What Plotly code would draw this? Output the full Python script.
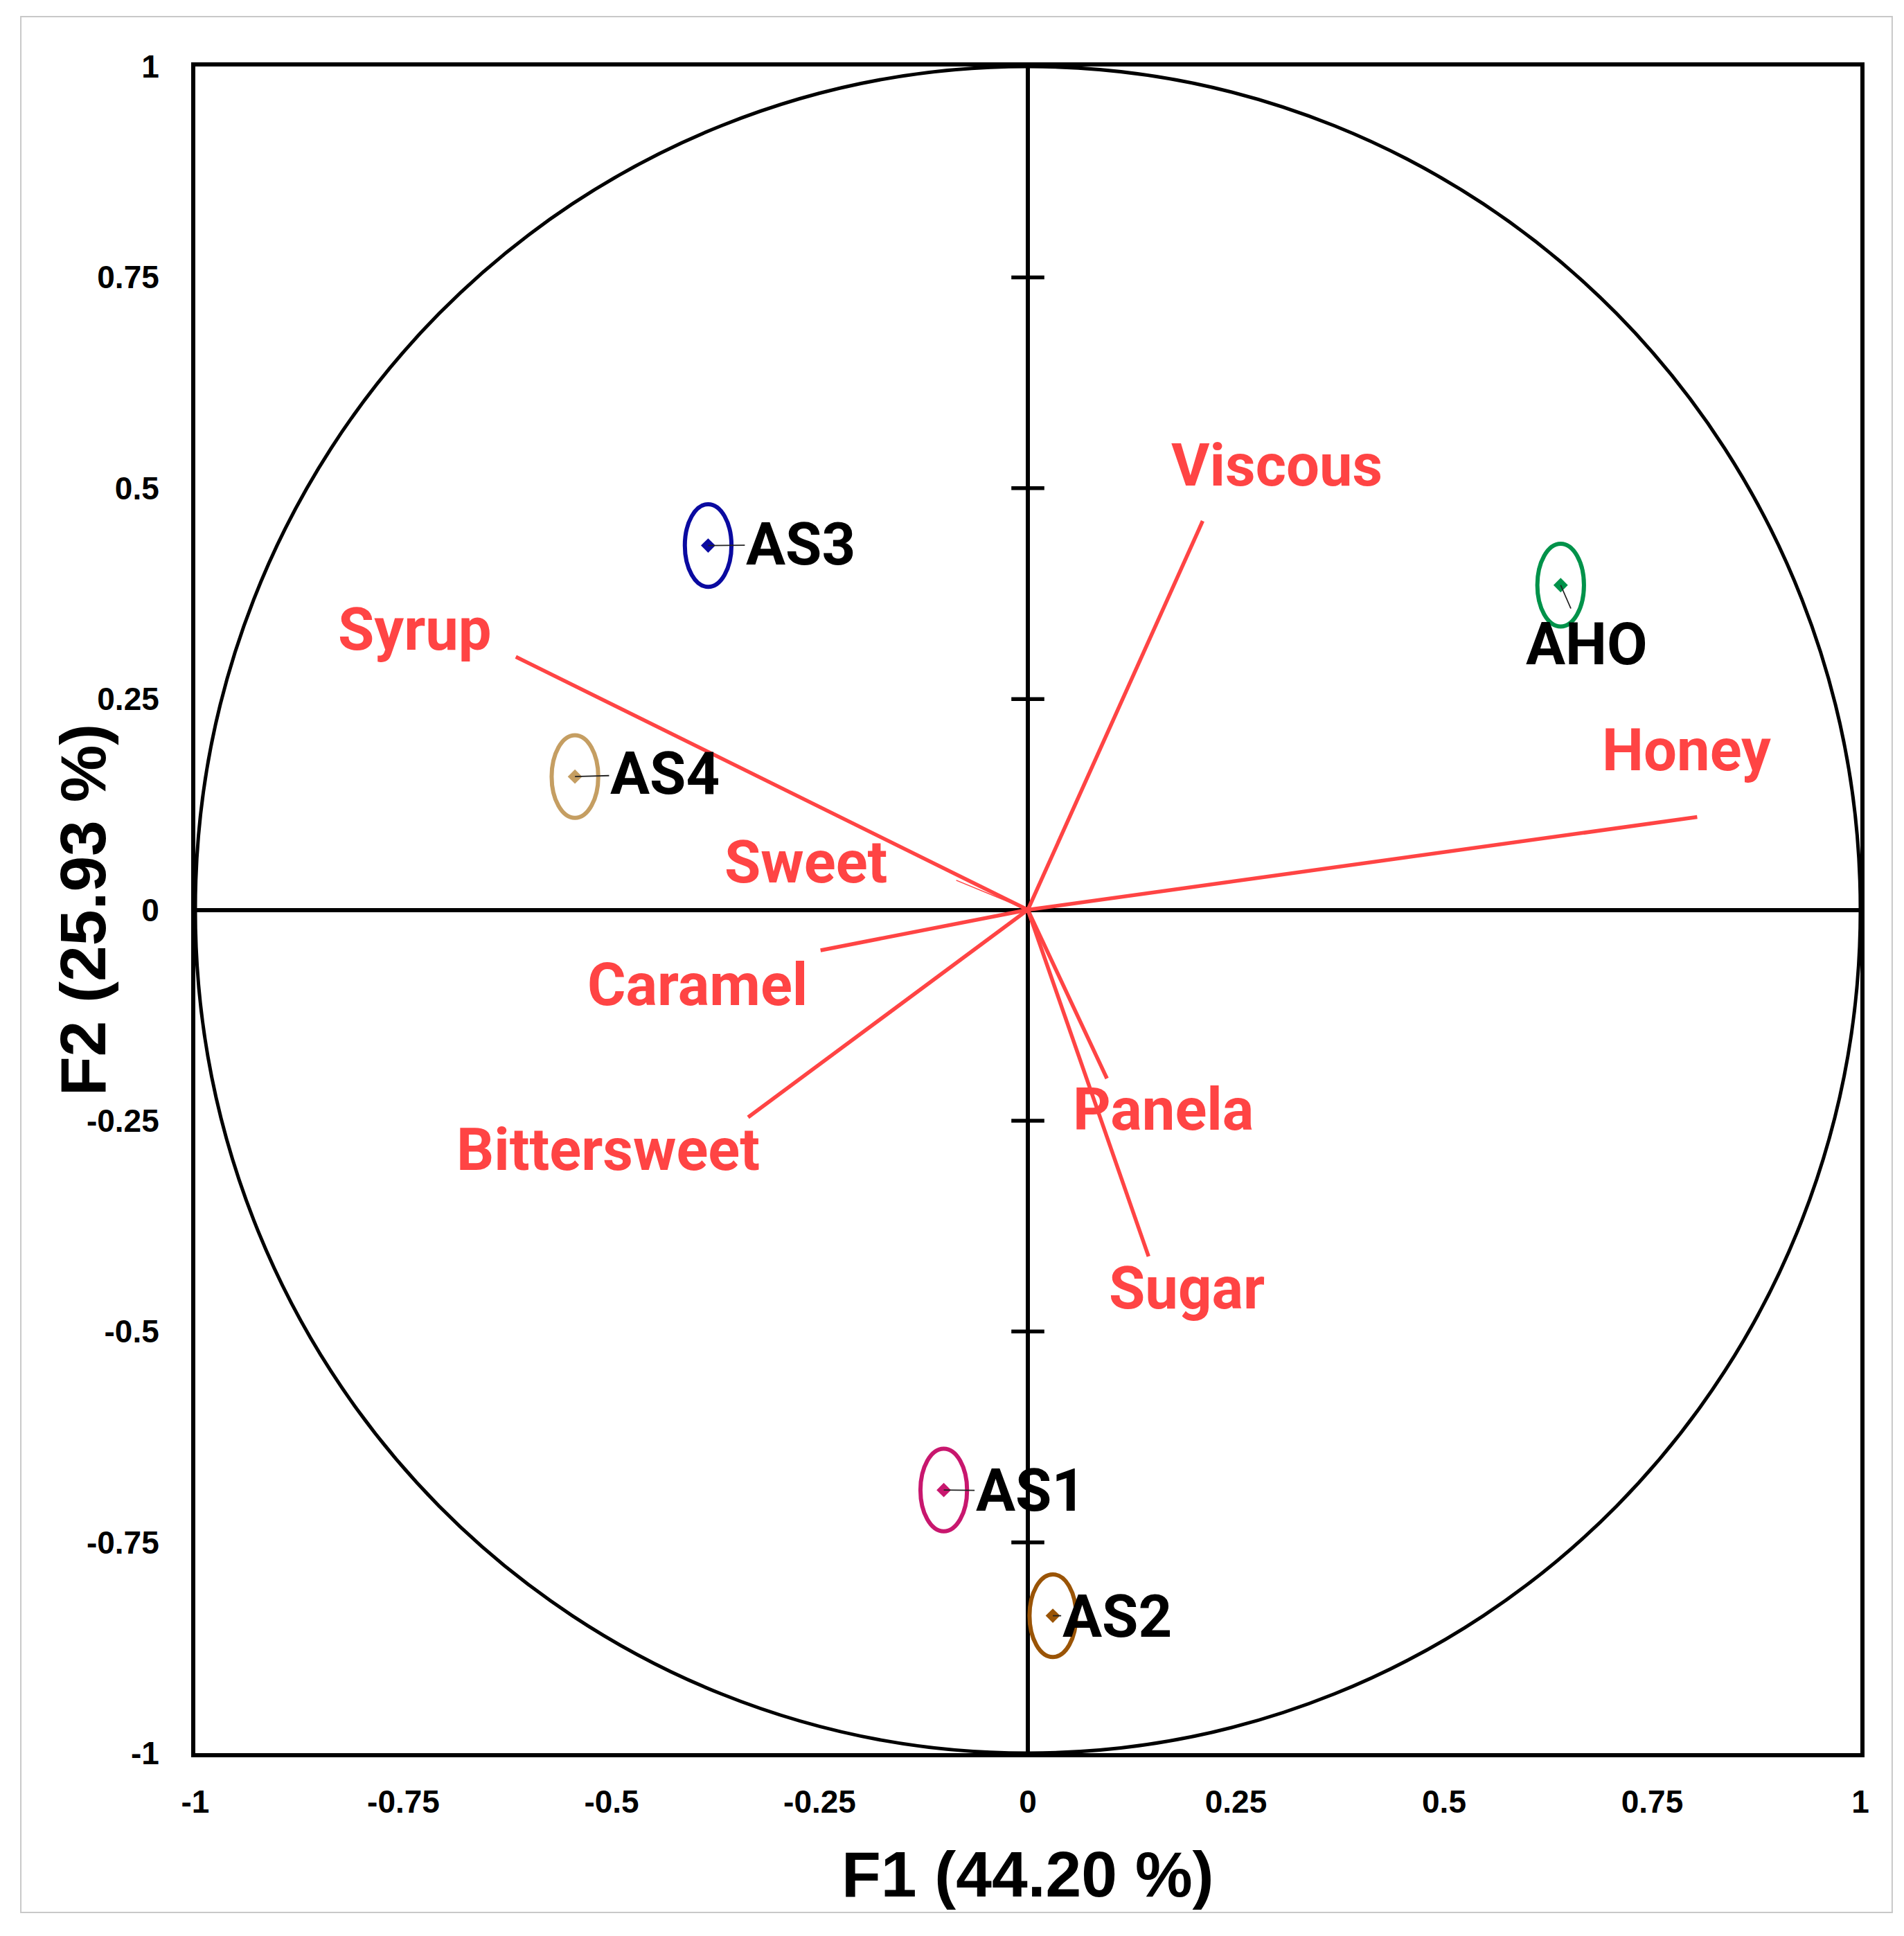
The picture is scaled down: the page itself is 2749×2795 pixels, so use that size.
import plotly.graph_objects as go

# correlation loadings of the sensory attributes on F1 / F2
var_names = ["Viscous", "Honey", "Syrup", "Sweet", "Caramel", "Bittersweet", "Panela", "Sugar"]
var_f1 = [0.210, 0.804, -0.615, -0.086, -0.249, -0.336, 0.095, 0.145]
var_f2 = [0.461, 0.110, 0.300, 0.035, -0.048, -0.246, -0.200, -0.411]
var_label_f1 = [0.299, 0.791, -0.736, -0.267, -0.397, -0.504, 0.163, 0.191]
var_label_f2 = [0.527, 0.189, 0.332, 0.056, -0.089, -0.285, -0.237, -0.449]

# samples (scores) with their confidence ellipses
obs_names = ["AS3", "AS4", "AHO", "AS1", "AS2"]
obs_f1 = [-0.384, -0.544, 0.640, -0.101, 0.030]
obs_f2 = [0.432, 0.158, 0.385, -0.688, -0.837]
obs_rx = [0.028, 0.028, 0.028, 0.028, 0.028]
obs_ry = [0.049, 0.049, 0.049, 0.049, 0.049]
obs_label_f1 = [-0.273, -0.436, 0.671, 0.003, 0.107]
obs_label_f2 = [0.433, 0.161, 0.315, -0.689, -0.838]
obs_colors = ["#0A0AA0", "#C59E62", "#00924A", "#C8176E", "#9A5406"]

tick_vals = [-1, -0.75, -0.5, -0.25, 0, 0.25, 0.5, 0.75, 1]
tick_text = ["-1", "-0.75", "-0.5", "-0.25", "0", "0.25", "0.5", "0.75", "1"]
inner_ticks = [-0.75, -0.5, -0.25, 0.25, 0.5, 0.75]

RED = "#FF4444"
label_font = dict(family="Roboto, Lato, sans-serif", size=85, weight="bold")
axis_font = dict(family="Liberation Sans, Arial, sans-serif", size=46, weight="bold", color="black")
title_font = dict(family="Liberation Sans, Arial, sans-serif", size=93, weight="bold", color="black")

fig = go.Figure()

# small cross ticks on the vertical zero axis
fig.add_trace(go.Scatter(
    x=[0] * len(inner_ticks), y=inner_ticks, mode="markers",
    marker=dict(symbol="line-ew", size=34, line=dict(width=5.5, color="black")),
    showlegend=False, hoverinfo="skip"))

# attribute vectors
for i, name in enumerate(var_names):
    width = 1.5 if name == "Sweet" else 5.5
    fig.add_trace(go.Scatter(
        x=[0, var_f1[i]], y=[0, var_f2[i]], mode="lines",
        line=dict(color=RED, width=width),
        showlegend=False, hoverinfo="skip"))
    fig.add_annotation(x=var_label_f1[i], y=var_label_f2[i], text=name,
                       showarrow=False, font=dict(color=RED, **label_font))

# sample points
for i, name in enumerate(obs_names):
    fig.add_shape(type="circle", xref="x", yref="y",
                  x0=obs_f1[i] - obs_rx[i], x1=obs_f1[i] + obs_rx[i],
                  y0=obs_f2[i] - obs_ry[i], y1=obs_f2[i] + obs_ry[i],
                  line=dict(color=obs_colors[i], width=6))
    fig.add_trace(go.Scatter(
        x=[obs_f1[i]], y=[obs_f2[i]], mode="markers",
        marker=dict(symbol="diamond", size=16, color=obs_colors[i]),
        showlegend=False, hoverinfo="skip"))
    fig.add_annotation(x=obs_f1[i], y=obs_f2[i], ax=obs_label_f1[i], ay=obs_label_f2[i],
                       axref="x", ayref="y", text=name, showarrow=True,
                       arrowhead=0, arrowwidth=1.8, arrowcolor="#222222", standoff=0,
                       font=dict(color="black", **label_font))

# correlation circle
fig.add_shape(type="circle", xref="x", yref="y", x0=-1, y0=-1, x1=1, y1=1,
              line=dict(color="black", width=5), layer="below")

# thin grey frame round the whole chart
fig.add_shape(type="rect", xref="paper", yref="paper",
              x0=-0.1048, x1=1.0191, y0=-0.0945, y1=1.0296,
              line=dict(color="#C8C8C8", width=2))

fig.add_annotation(xref="paper", yref="paper", x=0.5, y=-0.072, text="F1 (44.20 %)",
                   showarrow=False, yanchor="middle", font=title_font)
fig.add_annotation(xref="paper", yref="paper", x=-0.0675, y=0.5, text="F2 (25.93 %)",
                   showarrow=False, textangle=-90, xanchor="center", font=title_font)

axis_common = dict(
    range=[-1, 1], tickvals=tick_vals, ticktext=tick_text, tickfont=axis_font,
    showline=True, mirror=True, linecolor="black", linewidth=6,
    showgrid=False, zeroline=True, zerolinecolor="black", zerolinewidth=5.5,
    ticks="", fixedrange=True)

fig.update_xaxes(**axis_common, ticklabelstandoff=25)
fig.update_yaxes(**axis_common, ticklabelstandoff=37)

# margins allow for the default body margin of the html page
fig.update_layout(
    width=2749, height=2795,
    margin=dict(l=274, r=71, t=88, b=272),
    plot_bgcolor="white", paper_bgcolor="white",
    showlegend=False, hovermode=False)

fig.write_html("out.html")
